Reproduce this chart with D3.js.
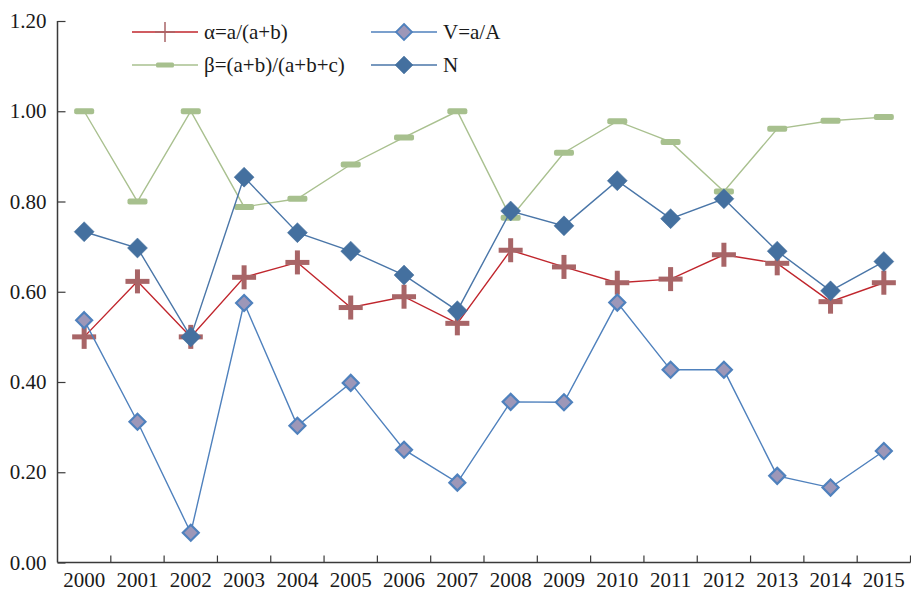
<!DOCTYPE html>
<html>
<head>
<meta charset="utf-8">
<script src="https://cdn.jsdelivr.net/npm/d3@7/dist/d3.min.js"></script>
<style>
  html, body { margin: 0; padding: 0; background: #fff; }
  svg { display: block; }
  text { font-family: "Liberation Serif", "Times New Roman", serif; fill: #1a1a1a; }
</style>
</head>
<body>
<svg id="chart" width="911" height="590"></svg>
<script>
const years = ["2000","2001","2002","2003","2004","2005","2006","2007","2008","2009","2010","2011","2012","2013","2014","2015"];
const yTicks = [0, 0.2, 0.4, 0.6, 0.8, 1.0, 1.2];

const alpha = [0.50, 0.623, 0.50, 0.632, 0.665, 0.565, 0.589, 0.530, 0.692, 0.655, 0.620, 0.628, 0.682, 0.663, 0.578, 0.620];
const beta  = [1.00, 0.80, 1.00, 0.788, 0.806, 0.882, 0.942, 1.00, 0.764, 0.908, 0.978, 0.932, 0.822, 0.961, 0.979, 0.987];
const vRatio = [0.537, 0.312, 0.066, 0.575, 0.303, 0.398, 0.250, 0.177, 0.356, 0.355, 0.576, 0.427, 0.427, 0.192, 0.166, 0.247];
const nVal  = [0.733, 0.697, 0.500, 0.854, 0.731, 0.690, 0.637, 0.558, 0.779, 0.746, 0.846, 0.762, 0.806, 0.690, 0.602, 0.667];

const seriesNames = ["α=a/(a+b)", "V=a/A", "β=(a+b)/(a+b+c)", "N"];

(function () {
const svg = d3.select("#chart");
const mLeft = 57.5, mRight = 910.5, mTop = 21, mBottom = 562.5;
const fs = 21;

const x = d3.scaleBand().domain(years).range([mLeft, mRight]).paddingInner(0).paddingOuter(0);
const y = d3.scaleLinear().domain([0, 1.2]).range([mBottom, mTop]);
const cx = d => x(d) + x.bandwidth() / 2;

// axes
const axisColor = "#3a3a3a";
const yAxis = d3.axisLeft(y).tickValues(yTicks).tickFormat(d3.format(".2f")).tickSize(-8).tickPadding(11);
const gy = svg.append("g").attr("transform", `translate(${mLeft},0)`).call(yAxis);
gy.select(".domain").attr("stroke", axisColor).attr("stroke-width", 1.5).attr("d", `M0,${mTop}V${mBottom}`);
gy.selectAll(".tick line").attr("stroke", axisColor).attr("stroke-width", 1.2);
gy.selectAll(".tick text").attr("font-size", fs).attr("fill", "#1a1a1a").attr("font-family", "Liberation Serif");

// x axis: ticks between categories
const gx = svg.append("g").attr("transform", `translate(0,${mBottom})`);
gx.append("line").attr("x1", mLeft).attr("x2", mRight).attr("stroke", axisColor).attr("stroke-width", 1.5);
gx.selectAll("line.tk").data(years).enter().append("line")
  .attr("class", "tk")
  .attr("x1", d => x(d) + x.bandwidth())
  .attr("x2", d => x(d) + x.bandwidth())
  .attr("y1", 0).attr("y2", -7)
  .attr("stroke", axisColor).attr("stroke-width", 1.2);
gx.selectAll("text").data(years).enter().append("text")
  .attr("x", d => cx(d)).attr("y", 24)
  .attr("text-anchor", "middle").attr("font-size", fs)
  .text(d => d);

// colors
const cAlphaLine = "#c0262d", cAlphaMark = "#a86567";
const cBetaLine = "#a9c08f", cBetaMark = "#a7c08e";
const cVLine = "#4f81bd", cVFill = "#9d97b8";
const cNLine = "#4a76a8", cNFill = "#44709f";

const line = d3.line().x((d, i) => cx(years[i])).y(d => y(d));

function plus(g, px, py, s, w, color) {
  g.append("rect").attr("x", px - s).attr("y", py - w / 2).attr("width", 2 * s).attr("height", w).attr("fill", color);
  g.append("rect").attr("x", px - w / 2).attr("y", py - s).attr("width", w).attr("height", 2 * s).attr("fill", color);
}
function bar(g, px, py, color) {
  g.append("rect").attr("x", px - 10).attr("y", py - 3).attr("width", 20).attr("height", 6).attr("rx", 2).attr("fill", color);
}
function diamond(g, px, py, r, fill, stroke, sw) {
  g.append("path").attr("d", `M${px},${py - r}L${px + r},${py}L${px},${py + r}L${px - r},${py}Z`)
    .attr("fill", fill).attr("stroke", stroke).attr("stroke-width", sw);
}

const plot = svg.append("g");
const gb = plot.append("g");
gb.append("path").datum(beta).attr("d", line).attr("fill", "none").attr("stroke", cBetaLine).attr("stroke-width", 1.4);
beta.forEach((v, i) => bar(gb, cx(years[i]), y(v), cBetaMark));
const ga = plot.append("g");
ga.append("path").datum(alpha).attr("d", line).attr("fill", "none").attr("stroke", cAlphaLine).attr("stroke-width", 1.4);
alpha.forEach((v, i) => plus(ga, cx(years[i]), y(v), 12, 5, cAlphaMark));
const gv = plot.append("g");
gv.append("path").datum(vRatio).attr("d", line).attr("fill", "none").attr("stroke", cVLine).attr("stroke-width", 1.4);
vRatio.forEach((v, i) => diamond(gv, cx(years[i]), y(v), 8, cVFill, cVLine, 2.2));
const gn = plot.append("g");
gn.append("path").datum(nVal).attr("d", line).attr("fill", "none").attr("stroke", cNLine).attr("stroke-width", 1.4);
nVal.forEach((v, i) => diamond(gn, cx(years[i]), y(v), 10, cNFill, cNFill, 0.5));

// legend
const lg = svg.append("g");
const legendItems = [
  {name: seriesNames[0], lx: 132, ly: 32, type: "alpha"},
  {name: seriesNames[1], lx: 371, ly: 32, type: "v"},
  {name: seriesNames[2], lx: 132, ly: 65, type: "beta"},
  {name: seriesNames[3], lx: 371, ly: 65, type: "n"}
];
legendItems.forEach(it => {
  const col = it.type === "alpha" ? cAlphaLine : it.type === "beta" ? cBetaLine : it.type === "v" ? cVLine : cNLine;
  lg.append("line").attr("x1", it.lx).attr("x2", it.lx + 66).attr("y1", it.ly).attr("y2", it.ly).attr("stroke", col).attr("stroke-width", 1.4);
  const mx = it.lx + 33;
  if (it.type === "alpha") {
    lg.append("line").attr("x1", mx - 10).attr("x2", mx + 10).attr("y1", it.ly).attr("y2", it.ly).attr("stroke", cAlphaMark).attr("stroke-width", 1.5);
    lg.append("line").attr("x1", mx).attr("x2", mx).attr("y1", it.ly - 10).attr("y2", it.ly + 10).attr("stroke", cAlphaMark).attr("stroke-width", 1.5);
  } else if (it.type === "beta") {
    lg.append("rect").attr("x", mx - 9).attr("y", it.ly - 2.5).attr("width", 18).attr("height", 5).attr("rx", 1.5).attr("fill", cBetaMark);
  } else if (it.type === "v") {
    diamond(lg, mx, it.ly, 8, cVFill, cVLine, 1.8);
  } else {
    diamond(lg, mx, it.ly, 9, cNFill, cNFill, 0.5);
  }
  lg.append("text").attr("x", it.lx + 72).attr("y", it.ly + 7).attr("font-size", fs).text(it.name);
});
})();
</script>
</body>
</html>
